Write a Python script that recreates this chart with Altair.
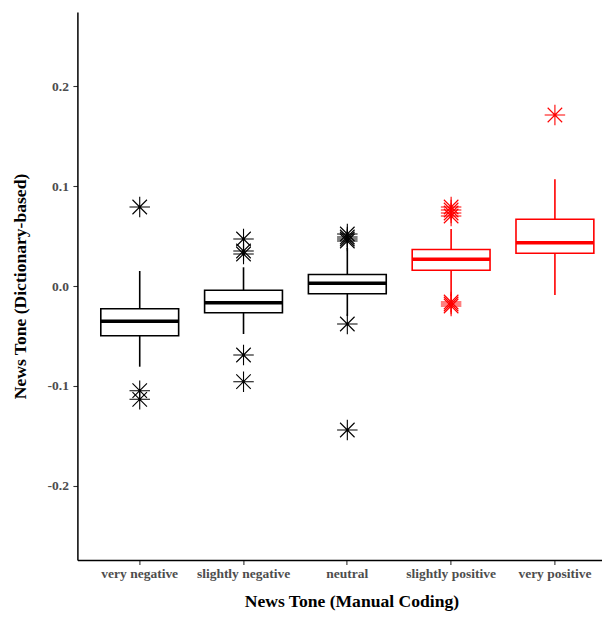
import altair as alt
import pandas as pd

# ---- data ----
categories = ["very negative", "slightly negative", "neutral", "slightly positive", "very positive"]
box_colors = ["#000000", "#000000", "#000000", "#FF0000", "#FF0000"]
q1 = [-0.0497, -0.0267, -0.0077, 0.0157, 0.0327]
median = [-0.0353, -0.0167, 0.0028, 0.0267, 0.0433]
q3 = [-0.0227, -0.0043, 0.0115, 0.0365, 0.0667]
whisker_low = [-0.0807, -0.0480, -0.0300, -0.0100, -0.0090]
whisker_high = [0.0150, 0.0187, 0.0380, 0.0570, 0.1067]

outlier_cat = (["very negative"] * 3 + ["slightly negative"] * 5 + ["neutral"] * 6
               + ["slightly positive"] * 7 + ["very positive"] * 1)
outlier_val = ([0.079, -0.1047, -0.1133]
               + [0.047, 0.035, 0.032, -0.069, -0.0957]
               + [0.052, 0.049, 0.047, 0.045, -0.038, -0.144]
               + [0.079, 0.076, 0.073, 0.070, -0.016, -0.018, -0.020]
               + [0.171])

y_ticks = [-0.2, -0.1, 0.0, 0.1, 0.2]

box_df = pd.DataFrame({"cat": categories, "q1": q1, "med": median, "q3": q3,
                       "lo": whisker_low, "hi": whisker_high})
out_df = pd.DataFrame({"cat": outlier_cat, "val": outlier_val})

FONT = "Liberation Serif"
W, H = 525, 548
P_OUT, ALIGN = 0.1539, 0.7324
step = W / (5 - 0.25 + 2 * P_OUT)

xscale = alt.Scale(domain=categories, paddingInner=0.25, paddingOuter=P_OUT, align=ALIGN)
yscale = alt.Scale(domain=[-0.274, 0.274], nice=False, zero=False)
color_scale = alt.Scale(domain=categories, range=box_colors)

x_enc = alt.X("cat:N", scale=xscale, sort=categories,
              axis=alt.Axis(title="News Tone (Manual Coding)", labelAngle=0,
                            titleX=274, titleY=47, titleAlign="center",
                            titleBaseline="alphabetic", labelPadding=2.5))
y_axis = alt.Axis(title="News Tone (Dictionary-based)", values=y_ticks, grid=False,
                  labelExpr="datum.value < 0 ? '-' + format(-datum.value, '.1f') : format(datum.value, '.1f')",
                  titleX=-51.7, titleY=H / 2, titleAngle=270, titleAlign="center",
                  titleBaseline="alphabetic", labelPadding=4.5)

whiskers = alt.Chart(box_df).mark_rule(strokeWidth=1.6).encode(
    x=x_enc,
    y=alt.Y("lo:Q", scale=yscale, axis=y_axis),
    y2="hi:Q",
    stroke=alt.Stroke("cat:N", scale=color_scale, legend=None),
)

boxes = alt.Chart(box_df).mark_bar(fill="white", strokeWidth=1.6, opacity=1).encode(
    x=alt.X("cat:N", sort=categories),
    y="q1:Q",
    y2="q3:Q",
    stroke=alt.Stroke("cat:N", scale=color_scale, legend=None),
)

medians = alt.Chart(box_df).mark_tick(thickness=3.5, size=0.75 * step, opacity=1).encode(
    x=alt.X("cat:N", sort=categories),
    y="med:Q",
    color=alt.Color("cat:N", scale=color_scale, legend=None),
)

star = "M-1,0L1,0M0,-1L0,1M-0.707,-0.707L0.707,0.707M-0.707,0.707L0.707,-0.707"
outliers = alt.Chart(out_df).mark_point(shape=star, size=420, filled=False,
                                        strokeWidth=1.1, opacity=1).encode(
    x=alt.X("cat:N", sort=categories),
    y="val:Q",
    stroke=alt.Stroke("cat:N", scale=color_scale, legend=None),
)

chart = alt.layer(whiskers, boxes, medians, outliers).properties(
    width=W, height=H,
    autosize=alt.AutoSizeParams(type="none"),
    padding={"left": 69.4, "top": 4, "right": 0, "bottom": 51},
    background="white",
).configure_view(stroke=None).configure_axis(
    domainColor="black", domainWidth=1.5,
    tickColor="#333333", tickWidth=1.1, tickSize=4.5,
    labelFont=FONT, labelFontWeight="bold", labelFontSize=13.5, labelColor="#4D4D4D",
    titleFont=FONT, titleFontWeight="bold", titleFontSize=17.6, titleColor="black",
)

chart.save("out.html", embed_options={"renderer": "svg", "actions": False})
